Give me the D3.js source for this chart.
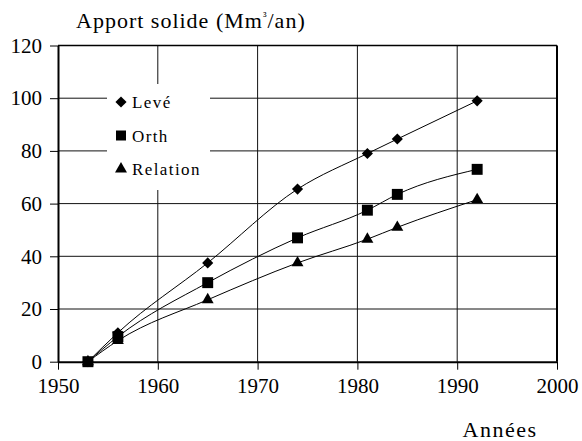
<!DOCTYPE html>
<html>
<head>
<meta charset="utf-8">
<script src="https://cdn.jsdelivr.net/npm/d3@7"></script>
<style>
	body { margin: 0; background: #fff; }
	svg { display: block; font-family: 'Liberation Serif', 'Times New Roman', serif; }
	.axis path, .axis line { stroke: #000; }
	.axis text { font-size: 21px; fill: #000; font-family: 'Liberation Serif', 'Times New Roman', serif; }
	.grid line { stroke: #111; stroke-width: 1; }
	.series__line { fill: none; stroke: #000; stroke-width: 1; }
</style>
</head>
<body>
<div class="chart"></div>
<script>
const WIDTH = 582;
const HEIGHT = 441;

const YEARS = [1953, 1956, 1965, 1974, 1981, 1984, 1992];
const LEVE = [0, 11, 37.5, 65.5, 79, 84.5, 99];
const ORTH = [0, 9.5, 30, 47, 57.5, 63.5, 73];
const RELATION = [0, 8, 23.5, 37.5, 46.5, 51, 61.5];

const SERIES_NAMES = ['Levé', 'Orth', 'Relation'];
const X_TICKS = [1950, 1960, 1970, 1980, 1990, 2000];
const Y_TICKS = [0, 20, 40, 60, 80, 100, 120];

// diamond = square turned 45 degrees
const MARKS = {
	'Levé': { symbol: d3.symbolSquare, size: 62, rotate: 45 },
	'Orth': { symbol: d3.symbolSquare, size: 120, rotate: 0 },
	'Relation': { symbol: d3.symbolTriangle, size: 62, rotate: 0 }
};

const series = [
	{ key: SERIES_NAMES[0], values: LEVE },
	{ key: SERIES_NAMES[2], values: RELATION },
	{ key: SERIES_NAMES[1], values: ORTH }
].map(s => ({ ...s, points: YEARS.map((year, i) => ({ key: s.key, year, value: s.values[i] })) }));

const scale = {
	x: d3.scaleLinear().domain([1950, 2000]).range([58, 557]),
	y: d3.scaleLinear().domain([0, 120]).range([361.7, 45.5])
};

function mark(key, size) {
	const m = MARKS[key];
	return d3.symbol().type(m.symbol).size(size || m.size)();
}

const svg = d3.select('.chart')
	.append('svg')
	.attr('width', WIDTH)
	.attr('height', HEIGHT);

// grid
const grid = svg.append('g').attr('class', 'grid');
grid.selectAll('.grid--y')
	.data(Y_TICKS.slice(1))
	.enter()
	.append('line')
	.attr('x1', scale.x(1950))
	.attr('x2', scale.x(2000))
	.attr('y1', d => scale.y(d))
	.attr('y2', d => scale.y(d));
grid.selectAll('.grid--x')
	.data(X_TICKS.slice(1, -1))
	.enter()
	.append('line')
	.attr('x1', d => scale.x(d))
	.attr('x2', d => scale.x(d))
	.attr('y1', scale.y(0))
	.attr('y2', scale.y(120));

// right border
svg.append('line')
	.attr('x1', scale.x(2000))
	.attr('x2', scale.x(2000))
	.attr('y1', scale.y(0))
	.attr('y2', scale.y(120))
	.attr('stroke', '#000')
	.attr('stroke-width', 2);

// legend box hides grid behind it
const legend = svg.append('g').attr('class', 'legend');
legend.append('rect')
	.attr('x', 107)
	.attr('y', 84)
	.attr('width', 103)
	.attr('height', 106)
	.attr('fill', '#fff');

const item = legend.selectAll('.legend__item')
	.data(SERIES_NAMES)
	.enter()
	.append('g')
	.attr('transform', (d, i) => `translate(121, ${102 + i * 33.5})`);
item.append('path')
	.attr('d', d => mark(d, d === 'Orth' ? 100 : null))
	.attr('transform', d => `rotate(${MARKS[d].rotate})`)
	.attr('fill', '#000');
item.append('text')
	.attr('x', 11)
	.attr('y', 6)
	.attr('font-size', 17)
	.attr('letter-spacing', 1.4)
	.text(d => d);

// lines
const line = d3.line()
	.x(d => scale.x(d.year))
	.y(d => scale.y(d.value))
	.curve(d3.curveMonotoneX);

const g = svg.append('g').attr('class', 'series');
g.selectAll('.series__line')
	.data(series)
	.enter()
	.append('path')
	.attr('class', 'series__line')
	.attr('d', d => line(d.points));

// axes
const axisY = d3.axisLeft(scale.y)
	.tickValues(Y_TICKS)
	.tickSizeInner(8)
	.tickSizeOuter(0)
	.tickPadding(8);
svg.append('g')
	.attr('class', 'axis axis--y')
	.attr('transform', `translate(${scale.x(1950)}, 0)`)
	.call(axisY)
	.attr('font-family', null)
	.call(a => a.select('.domain').attr('stroke-width', 2));

const axisX = d3.axisBottom(scale.x)
	.tickValues(X_TICKS)
	.tickFormat(d3.format('d'))
	.tickSizeInner(8)
	.tickSizeOuter(0)
	.tickPadding(8);
svg.append('g')
	.attr('class', 'axis axis--x')
	.attr('transform', `translate(0, ${scale.y(0)})`)
	.call(axisX)
	.attr('font-family', null)
	.call(a => a.select('.domain').attr('stroke-width', 2));

// top border
svg.append('line')
	.attr('x1', scale.x(1950))
	.attr('x2', scale.x(2000))
	.attr('y1', scale.y(120))
	.attr('y2', scale.y(120))
	.attr('stroke', '#000')
	.attr('stroke-width', 1.5);

// markers
g.selectAll('.series__marks')
	.data(series)
	.enter()
	.append('g')
	.selectAll('path')
	.data(d => d.points)
	.enter()
	.append('path')
	.attr('transform', d => `translate(${scale.x(d.year)}, ${scale.y(d.value)}) rotate(${MARKS[d.key].rotate})`)
	.attr('d', d => mark(d.key))
	.attr('fill', '#000');

// titles
const title = svg.append('text')
	.attr('x', 76)
	.attr('y', 28)
	.attr('font-size', 22)
	.attr('letter-spacing', 1)
	.text('Apport solide (Mm');
title.append('tspan')
	.attr('font-size', 12)
	.attr('dy', -8)
	.text('³');
title.append('tspan')
	.attr('dy', 8)
	.attr('font-size', 22)
	.text('/an)');

svg.append('text')
	.attr('x', 500)
	.attr('y', 437)
	.attr('text-anchor', 'middle')
	.attr('font-size', 22)
	.attr('letter-spacing', 1.5)
	.text('Années');
</script>
</body>
</html>
